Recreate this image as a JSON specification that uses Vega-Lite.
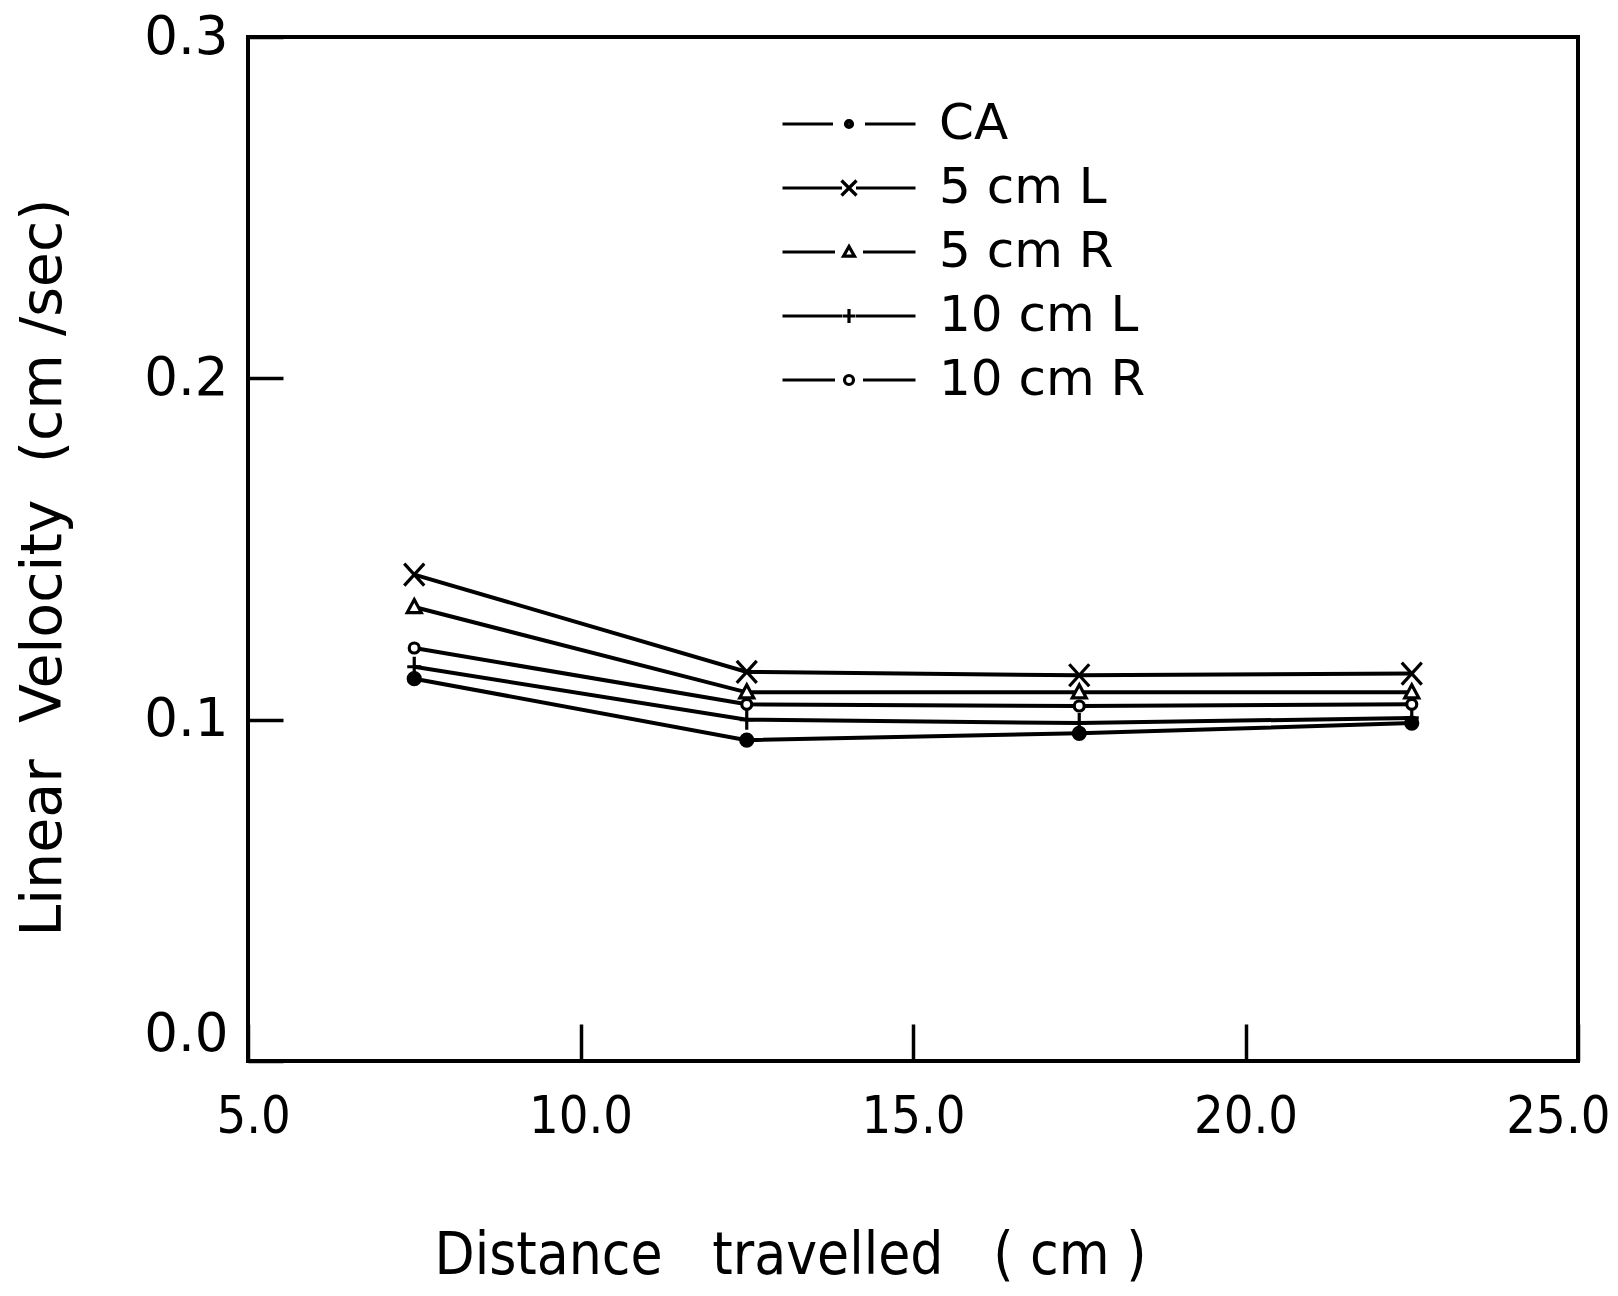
{
  "$schema": "https://vega.github.io/schema/vega-lite/v6.json",
  "width": 1330,
  "height": 1024,
  "autosize": "none",
  "padding": {"left": 248, "top": 37, "right": 40, "bottom": 235},
  "background": "white",
  "config": {
    "view": {"stroke": "black", "strokeWidth": 4},
    "axis": {"grid": false, "domain": false, "labelColor": "black", "titleColor": "black", "tickColor": "black", "titleFontWeight": "normal"}
  },
  "data": {
    "values": [
      {"d": 7.5, "v": 0.112, "s": "CA"},
      {"d": 12.5, "v": 0.094, "s": "CA"},
      {"d": 17.5, "v": 0.096, "s": "CA"},
      {"d": 22.5, "v": 0.099, "s": "CA"},
      {"d": 7.5, "v": 0.1425, "s": "5 cm L"},
      {"d": 12.5, "v": 0.114, "s": "5 cm L"},
      {"d": 17.5, "v": 0.113, "s": "5 cm L"},
      {"d": 22.5, "v": 0.1135, "s": "5 cm L"},
      {"d": 7.5, "v": 0.133, "s": "5 cm R"},
      {"d": 12.5, "v": 0.108, "s": "5 cm R"},
      {"d": 17.5, "v": 0.108, "s": "5 cm R"},
      {"d": 22.5, "v": 0.108, "s": "5 cm R"},
      {"d": 7.5, "v": 0.1155, "s": "10 cm L"},
      {"d": 12.5, "v": 0.1, "s": "10 cm L"},
      {"d": 17.5, "v": 0.099, "s": "10 cm L"},
      {"d": 22.5, "v": 0.1005, "s": "10 cm L"},
      {"d": 7.5, "v": 0.121, "s": "10 cm R"},
      {"d": 12.5, "v": 0.1045, "s": "10 cm R"},
      {"d": 17.5, "v": 0.104, "s": "10 cm R"},
      {"d": 22.5, "v": 0.1045, "s": "10 cm R"}
    ]
  },
  "encoding": {
    "x": {
      "field": "d", "type": "quantitative",
      "scale": {"domain": [5, 25], "nice": false, "zero": false},
      "axis": {
        "title": "Distance\u00a0\u00a0\u00a0travelled\u00a0\u00a0\u00a0(\u00a0cm\u00a0)",
        "values": [5, 10, 15, 20, 25], "format": ".1f",
        "tickSize": -37, "tickWidth": 3.5,
        "labelFont": "DejaVu Sans Condensed", "labelFontSize": 52, "labelPadding": 67,
        "labelFlush": true, "labelFlushOffset": 32,
        "titleFont": "DejaVu Sans Condensed", "titleFontSize": 58,
        "titleX": 542, "titleY": 195, "titleAlign": "center", "titleBaseline": "middle"
      }
    },
    "y": {
      "field": "v", "type": "quantitative",
      "scale": {"domain": [0, 0.3], "nice": false},
      "axis": {
        "title": "Linear\u00a0\u00a0Velocity\u00a0\u00a0(cm\u00a0/sec)",
        "values": [0, 0.1, 0.2, 0.3], "format": ".1f",
        "tickSize": -35, "tickWidth": 3.5,
        "labelFont": "DejaVu Sans", "labelFontSize": 53, "labelPadding": 55,
        "labelBaseline": {"condition": {"test": "datum.value === 0", "value": "bottom"}, "value": "middle"},
        "titleFont": "DejaVu Sans", "titleFontSize": 57,
        "titleX": -205, "titleY": 530, "titleAlign": "center", "titleBaseline": "middle", "titleAngle": -90
      }
    }
  },
  "resolve": {"scale": {"shape": "independent"}, "legend": {"shape": "independent"}},
  "layer": [
    {
      "mark": {"type": "line", "color": "black", "strokeWidth": 4},
      "encoding": {"detail": {"field": "s"}}
    },
    {
      "mark": {"type": "point", "size": 100, "strokeWidth": 3.2, "stroke": "black", "opacity": 1, "filled": false},
      "encoding": {
        "shape": {
          "field": "s", "type": "nominal",
          "scale": {
            "domain": ["CA", "5 cm L", "5 cm R", "10 cm L", "10 cm R"],
            "range": [
              "M-1.2,0A1.2,1.2 0 1,1 1.2,0A1.2,1.2 0 1,1 -1.2,0Z",
              "M-2,-2.2L2,2.2M-2,2.2L2,-2.2",
              "M0,-1.5L1.4,1.1L-1.4,1.1Z",
              "M-1.4,0H1.4M0,-2V2",
              "M-1,0A1,1 0 1,1 1,0A1,1 0 1,1 -1,0Z"
            ]
          },
          "legend": null
        },
        "fill": {
          "field": "s", "type": "nominal",
          "scale": {"domain": ["CA", "5 cm L", "5 cm R", "10 cm L", "10 cm R"], "range": ["black", "white", "white", "white", "white"]},
          "legend": null
        }
      }
    },
    {
      "transform": [{"filter": "false"}],
      "mark": {"type": "point", "color": "black", "strokeWidth": 3, "opacity": 1, "filled": false},
      "encoding": {
        "shape": {
          "field": "s", "type": "nominal",
          "scale": {
            "domain": ["CA", "5 cm L", "5 cm R", "10 cm L", "10 cm R"],
            "range": [
              "M-6.65,0H-1.6M1.6,0H6.65M-0.35,0A0.35,0.35 0 1,1 0.35,0A0.35,0.35 0 1,1 -0.35,0ZM-0.12,0A0.12,0.12 0 1,1 0.12,0A0.12,0.12 0 1,1 -0.12,0Z",
              "M-6.65,0H-0.7M0.7,0H6.65M-0.75,-0.75L0.75,0.75M-0.75,0.75L0.75,-0.75",
              "M-6.65,0H-1.4M1.4,0H6.65M0,-0.55L0.55,0.42L-0.55,0.42Z",
              "M-6.65,0H-0.7M0.7,0H6.65M-0.65,0H0.65M0,-0.7V0.7",
              "M-6.65,0H-1.4M1.4,0H6.65M-0.45,0A0.45,0.45 0 1,1 0.45,0A0.45,0.45 0 1,1 -0.45,0Z"
            ]
          },
          "legend": {
            "title": null, "orient": "none", "legendX": 576, "legendY": 62,
            "padding": 0, "rowPadding": 14, "symbolSize": 400, "symbolStrokeWidth": 3.2,
            "symbolStrokeColor": "black", "symbolFillColor": "transparent", "symbolOpacity": 1,
            "labelFont": "DejaVu Sans", "labelFontSize": 50, "labelColor": "black", "labelOffset": 65, "labelLimit": 0
          }
        }
      }
    }
  ]
}
